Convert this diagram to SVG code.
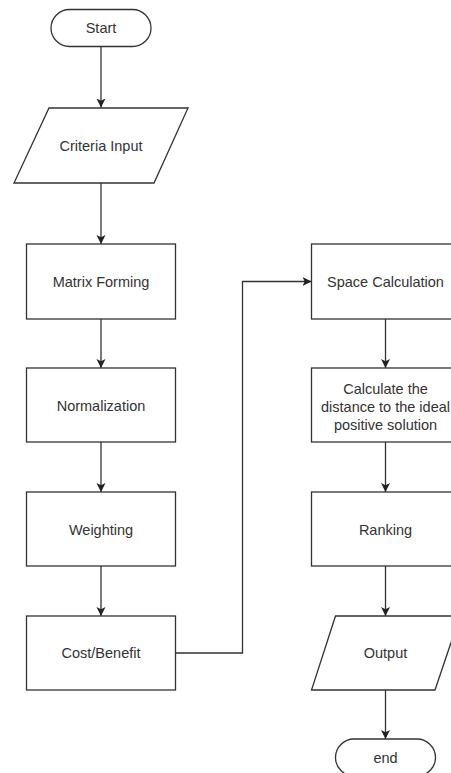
<svg xmlns="http://www.w3.org/2000/svg" width="451" height="773" viewBox="0 0 451 773">
<style>
.s{fill:#fff;stroke:#333;stroke-width:1.3}
.t{font-family:"Liberation Sans",Arial,sans-serif;font-size:14.5px;fill:#333;text-anchor:middle;dominant-baseline:central}
.c{fill:none;stroke:#333;stroke-width:1.3}
</style>
<defs>
<marker id="a" markerUnits="userSpaceOnUse" markerWidth="10" markerHeight="10" viewBox="0 0 10 10" refX="9" refY="5" orient="auto">
<path d="M0,0.5 L9,5 L0,9.5 L2.2,5 z" fill="#222"/>
</marker>
</defs>
<rect width="451" height="773" fill="#fff"/>
<g id="connectors">
<path class="c" d="M101,46.5 V107.5" marker-end="url(#a)"/>
<path class="c" d="M101,183 V244" marker-end="url(#a)"/>
<path class="c" d="M101,319 V368" marker-end="url(#a)"/>
<path class="c" d="M101,442 V492" marker-end="url(#a)"/>
<path class="c" d="M101,566 V616" marker-end="url(#a)"/>
<path class="c" d="M175.5,653 H242.5 V281.5 H311.5" marker-end="url(#a)"/>
<path class="c" d="M385.5,319 V368" marker-end="url(#a)"/>
<path class="c" d="M385.5,442 V492" marker-end="url(#a)"/>
<path class="c" d="M385.5,566 V616" marker-end="url(#a)"/>
<path class="c" d="M385.5,690 V739" marker-end="url(#a)"/>
</g>
<g id="start">
<rect class="s" x="51" y="9.5" width="100" height="37" rx="18.5"/>
<text class="t" x="101" y="28">Start</text>
</g>
<g id="criteria">
<path class="s" d="M49,108 H188 L154,183 H14 Z"/>
<text class="t" x="101" y="146">Criteria Input</text>
</g>
<g id="matrix">
<rect class="s" x="26.5" y="244" width="149" height="75"/>
<text class="t" x="101" y="282">Matrix Forming</text>
</g>
<g id="normalization">
<rect class="s" x="26.5" y="368" width="149" height="74"/>
<text class="t" x="101" y="406">Normalization</text>
</g>
<g id="weighting">
<rect class="s" x="26.5" y="492" width="149" height="74"/>
<text class="t" x="101" y="529.5">Weighting</text>
</g>
<g id="costbenefit">
<rect class="s" x="26.5" y="616" width="149" height="74"/>
<text class="t" x="101" y="653">Cost/Benefit</text>
</g>
<g id="space">
<rect class="s" x="311.5" y="244" width="149" height="75"/>
<text class="t" x="385.5" y="282">Space Calculation</text>
</g>
<g id="distance">
<rect class="s" x="311.5" y="368" width="149" height="74"/>
<text class="t" x="385.5" y="388.5">Calculate the</text>
<text class="t" x="385.5" y="406.5">distance to the ideal</text>
<text class="t" x="385.5" y="424.5">positive solution</text>
</g>
<g id="ranking">
<rect class="s" x="311.5" y="492" width="149" height="74"/>
<text class="t" x="385.5" y="529.5">Ranking</text>
</g>
<g id="output">
<path class="s" d="M335.5,616 H460 L435,690 H311.5 Z"/>
<text class="t" x="385.5" y="653">Output</text>
</g>
<g id="end">
<rect class="s" x="335.5" y="739" width="100" height="37" rx="18.5"/>
<text class="t" x="385.5" y="758">end</text>
</g>
</svg>
